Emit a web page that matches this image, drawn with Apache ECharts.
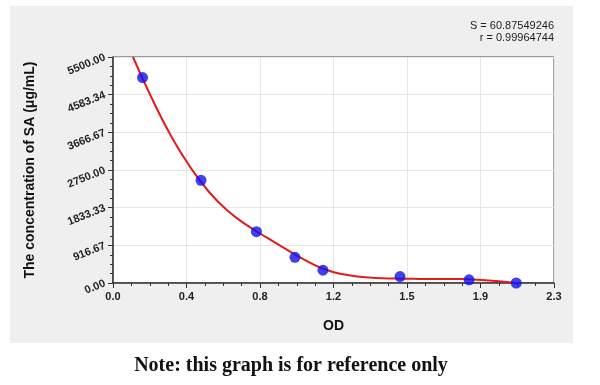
<!DOCTYPE html>
<html>
<head>
<meta charset="utf-8">
<script src="https://cdn.jsdelivr.net/npm/echarts@6/dist/echarts.min.js"></script>
<style>html,body{margin:0;padding:0;background:#fff}#c{width:600px;height:385px}</style>
</head>
<body>
<div id="c"></div>
<script>
// Standard points (OD, concentration)
var odValues = [0.154, 0.459, 0.748, 0.949, 1.095, 1.497, 1.857, 2.103];
var concValues = [5000, 2500, 1250, 625, 312, 156, 78, 0];
// Fitted curve
var curveOD = [0.104, 0.2, 0.3, 0.4, 0.5, 0.6, 0.7, 0.8, 0.9, 1.0, 1.1, 1.2, 1.3, 1.4, 1.5, 1.6, 1.7, 1.8, 1.9, 2.0, 2.106];
var curveConc = [5500, 4521, 3601, 2841, 2221, 1751, 1401, 1111, 831, 561, 341, 211, 146, 118, 105, 100, 97, 95, 82, 49, 0];
// Tick labels
var xTickLabels = ['0.0', '0.4', '0.8', '1.2', '1.5', '1.9', '2.3'];
var yTickLabels = ['0.00', '916.67', '1833.33', '2750.00', '3666.67', '4583.34', '5500.00'];
var statsLines = ['S = 60.87549246', 'r = 0.99964744'];

var xMax = 2.3, yMax = 5500, nInt = 6;
var xInt = xMax / nInt, yInt = yMax / nInt;

var chart = echarts.init(document.getElementById('c'), null, {renderer: 'canvas'});
var pts = odValues.map(function (x, i) { return [x, concValues[i]]; });
var curve = curveOD.map(function (x, i) { return [x, curveConc[i]]; });

chart.setOption({
  backgroundColor: '#ffffff',
  animation: false,
  graphic: [
    {type: 'rect', z: -10, shape: {x: 10, y: 6, width: 563, height: 337}, style: {fill: '#efefef'}},
    {type: 'text', x: 554, y: 26, style: {text: statsLines[0], align: 'right', verticalAlign: 'middle', font: '11px "Liberation Sans", Arial, sans-serif', fill: '#222'}},
    {type: 'text', x: 554, y: 38, style: {text: statsLines[1], align: 'right', verticalAlign: 'middle', font: '11px "Liberation Sans", Arial, sans-serif', fill: '#222'}},
    {type: 'text', x: 291, y: 366, style: {text: 'Note: this graph is for reference only', align: 'center', verticalAlign: 'middle', font: 'bold 20px "Liberation Serif", serif', fill: '#111'}}
  ],
  grid: {left: 113, right: 46, top: 57, bottom: 102, show: true, backgroundColor: '#ffffff', borderColor: '#444', borderWidth: 1},
  xAxis: {
    type: 'value', min: 0, max: xMax, interval: xInt,
    name: 'OD', nameLocation: 'middle', nameGap: 36,
    nameTextStyle: {fontFamily: '"Liberation Sans", Arial, sans-serif', fontWeight: 'bold', fontSize: 14, color: '#111'},
    axisLine: {show: true, onZero: false, lineStyle: {color: '#333', width: 1.5}},
    axisTick: {show: true, length: 5, lineStyle: {color: '#333'}},
    minorTick: {show: true, splitNumber: 4, length: 3, lineStyle: {color: '#333'}},
    splitLine: {show: true, lineStyle: {color: '#e6e6e6'}},
    axisLabel: {margin: 8, fontFamily: '"Liberation Sans", Arial, sans-serif', fontSize: 11, fontWeight: 'bold', color: '#222',
      formatter: function (v) { return xTickLabels[Math.round(v / xInt)] || ''; }}
  },
  yAxis: {
    type: 'value', min: 0, max: yMax, interval: yInt,
    name: 'The concentration of SA (μg/mL)', nameLocation: 'middle', nameGap: 76,
    nameTextStyle: {fontFamily: '"Liberation Sans", Arial, sans-serif', fontWeight: 'bold', fontSize: 14, color: '#111'},
    axisLine: {show: true, onZero: false, lineStyle: {color: '#333', width: 1.5}},
    axisTick: {show: true, length: 5, lineStyle: {color: '#333'}},
    minorTick: {show: true, splitNumber: 4, length: 3, lineStyle: {color: '#333'}},
    splitLine: {show: true, lineStyle: {color: '#e6e6e6'}},
    axisLabel: {margin: 8, rotate: 22, fontFamily: '"Liberation Sans", Arial, sans-serif', fontSize: 11, fontWeight: 'bold', color: '#222',
      formatter: function (v) { return yTickLabels[Math.round(v / yInt)] || ''; }}
  },
  series: [
    {type: 'line', data: curve, smooth: 0.5, showSymbol: false, clip: true,
     lineStyle: {color: '#e41a1c', width: 2}, z: 2},
    {type: 'scatter', data: pts, symbol: 'circle', symbolSize: 11,
     itemStyle: {color: '#1010ee'}, z: 3}
  ]
});
</script>
</body>
</html>
